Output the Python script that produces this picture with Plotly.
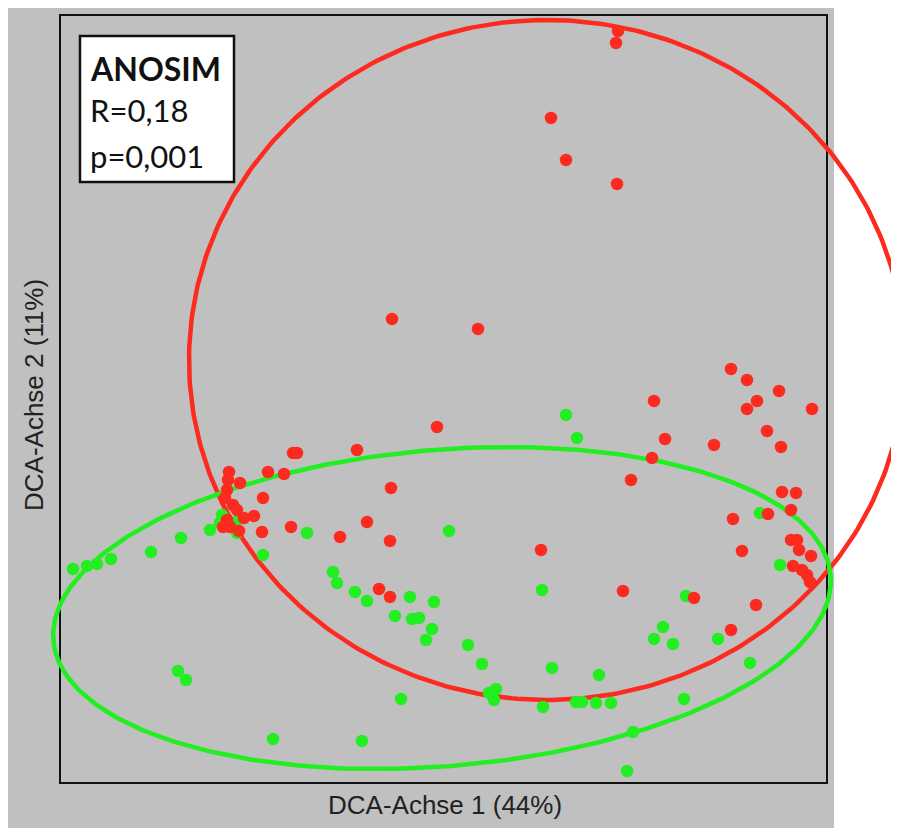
import numpy as np
import plotly.graph_objects as go

# ---- Data (DCA scores) ----
red_x = [5.58, 5.56, 4.91, 5.06, 5.57, 3.32, 4.18,
         6.71, 6.87, 7.19, 6.97, 6.87, 7.52, 5.94, 7.07, 6.05, 6.54, 7.21, 5.92, 5.71,
         7.22, 7.36, 7.08, 7.31, 6.73, 6.82, 7.31, 7.37, 7.39, 7.51, 7.33, 7.42, 7.47, 7.50,
         5.63, 6.34, 6.96, 6.71,
         3.77, 2.97, 3.31, 3.07, 2.80, 3.30, 3.19, 3.30, 4.81,
         2.33, 2.37, 1.69, 1.68, 1.67, 1.65, 1.73, 2.08, 2.24, 1.80, 2.03, 1.77, 1.94,
         1.84, 1.67, 1.70, 1.63, 1.79, 2.02, 2.31]
red_y = [7.52, 7.40, 6.65, 6.23, 5.99, 4.64, 4.54,
         4.14, 4.03, 3.92, 3.82, 3.74, 3.74, 3.82, 3.52, 3.44, 3.38, 3.36, 3.25, 3.03,
         2.91, 2.90, 2.69, 2.73, 2.64, 2.32, 2.43, 2.43, 2.33, 2.27, 2.17, 2.13, 2.08, 2.01,
         1.92, 1.85, 1.78, 1.53,
         3.56, 3.33, 2.95, 2.61, 2.46, 2.42, 1.94, 1.86, 2.33,
         3.30, 3.30, 3.11, 3.03, 2.93, 2.85, 2.78, 3.11, 3.09, 3.00, 2.85, 2.73, 2.67,
         2.65, 2.63, 2.56, 2.56, 2.52, 2.51, 2.56]

green_x = [5.06, 5.17, 3.89, 2.73, 2.77, 2.95, 3.07, 3.50, 3.74, 3.35, 3.52, 3.59,
           3.72, 3.66, 4.08, 4.22, 4.82, 4.92, 5.39, 4.29, 4.36, 4.34, 4.83, 5.16,
           5.22, 5.36, 5.51, 3.41, 3.02, 5.67, 5.73, 6.24, 6.90, 6.58, 6.13, 5.94,
           6.03, 6.26, 7.20, 7.00,
           0.13, 0.27, 0.37, 0.51, 0.91, 1.21, 1.50, 1.62, 1.60, 1.79, 1.77, 2.03,
           2.47, 1.18, 1.26, 2.13]
green_y = [3.68, 3.45, 2.52, 2.11, 2.00, 1.91, 1.82, 1.86, 1.81, 1.67, 1.64, 1.65,
           1.54, 1.43, 1.38, 1.19, 1.93, 1.15, 1.08, 0.90, 0.94, 0.83, 0.76, 0.81,
           0.81, 0.80, 0.80, 0.84, 0.42, 0.12, 0.51, 0.84, 1.20, 1.44, 1.39, 1.44,
           1.56, 1.87, 2.18, 2.70,
           2.14, 2.17, 2.19, 2.24, 2.31, 2.45, 2.53, 2.68, 2.60, 2.64, 2.50, 2.28,
           2.50, 1.12, 1.03, 0.44]

# group ellipses: centre x, centre y, semi-axis a, semi-axis b, angle (deg)
red_ellipse = (4.87, 4.23, 3.58, 3.40, 0.0)
green_ellipse = (3.82, 1.75, 3.90, 1.582, 4.77)

anosim_title = "ANOSIM"
anosim_r = "R=0,18"
anosim_p = "p=0,001"
x_title = "DCA-Achse 1 (44%)"
y_title = "DCA-Achse 2 (11%)"

RED = "#fc2a1f"
GREEN = "#22ee22"

W, H = 899, 828


def ellipse(cx, cy, a, b, ang, n=400):
    t = np.linspace(0, 2 * np.pi, n)
    th = np.deg2rad(ang)
    ex = cx + a * np.cos(t) * np.cos(th) - b * np.sin(t) * np.sin(th)
    ey = cy + a * np.cos(t) * np.sin(th) + b * np.sin(t) * np.cos(th)
    return ex, ey


fig = go.Figure()
rx, ry = ellipse(*red_ellipse)
gx, gy = ellipse(*green_ellipse)
fig.add_trace(go.Scatter(x=rx, y=ry, mode="lines", line=dict(color=RED, width=4.5),
                         hoverinfo="skip", showlegend=False))
fig.add_trace(go.Scatter(x=gx, y=gy, mode="lines", line=dict(color=GREEN, width=4.5),
                         hoverinfo="skip", showlegend=False))
fig.add_trace(go.Scatter(x=green_x, y=green_y, mode="markers",
                         marker=dict(color=GREEN, size=12.5), showlegend=False))
fig.add_trace(go.Scatter(x=red_x, y=red_y, mode="markers",
                         marker=dict(color=RED, size=12.5), showlegend=False))

shapes = [
    dict(type="rect", xref="paper", yref="paper", x0=0, x1=826 / W, y0=0, y1=1,
         fillcolor="#c0c0c0", line=dict(width=0), layer="below"),
    dict(type="rect", xref="x", yref="y", x0=0, x1=7.67, y0=0, y1=7.68,
         line=dict(color="#111111", width=2), fillcolor="rgba(0,0,0,0)", layer="below"),
    dict(type="rect", xref="x", yref="y", x0=0.20, x1=1.74, y0=6.01, y1=7.47,
         line=dict(color="#111111", width=2.5), fillcolor="white", layer="above"),
]

ann = [
    dict(x=0.28, y=7.15, text="<b>" + anosim_title + "</b>", xanchor="left", yanchor="middle",
         font=dict(family="Lato", size=32, color="#111111")),
    dict(x=0.28, y=6.73, text=anosim_r, xanchor="left", yanchor="middle",
         font=dict(family="Lato", size=31, color="#111111")),
    dict(x=0.28, y=6.27, text=anosim_p, xanchor="left", yanchor="middle",
         font=dict(family="Lato", size=31, color="#111111")),
]
for a in ann:
    a.update(xref="x", yref="y", showarrow=False)

ann.append(dict(x=437 / W, y=1 - 797 / H, xref="paper", yref="paper", text=x_title,
                showarrow=False, xanchor="center", yanchor="middle",
                font=dict(family="Liberation Sans", size=26, color="#222222")))
ann.append(dict(x=26 / W, y=1 - 387 / H, xref="paper", yref="paper", text=y_title,
                showarrow=False, xanchor="center", yanchor="middle", textangle=-90,
                font=dict(family="Liberation Sans", size=26, color="#222222")))

fig.update_layout(
    width=W, height=H, autosize=False,
    margin=dict(l=0, r=0, t=0, b=0, pad=0),
    paper_bgcolor="white", plot_bgcolor="rgba(0,0,0,0)",
    xaxis=dict(range=[-0.52, 8.47], visible=False, fixedrange=True),
    yaxis=dict(range=[-0.53, 7.75], visible=False, fixedrange=True),
    shapes=shapes, annotations=ann, showlegend=False,
)

fig.write_html("out.html")
